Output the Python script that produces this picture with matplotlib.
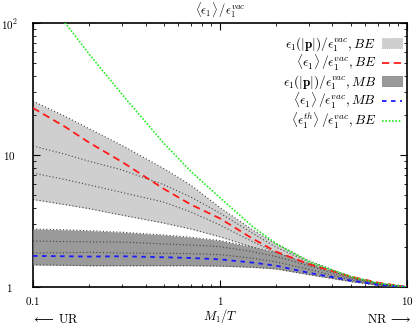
import numpy as np
import matplotlib
matplotlib.use('Agg')
import matplotlib.pyplot as plt
from matplotlib.patches import Patch
from matplotlib.lines import Line2D

plt.rcParams['mathtext.fontset'] = 'cm'
plt.rcParams['font.family'] = ['DejaVu Serif']
plt.rcParams['font.size'] = 8

# M1/T grid
x = [0.1, 0.15, 0.2, 0.3, 0.5, 0.7, 1, 1.5, 2, 3, 5, 7, 10]

# BE band (eps1(|p|)/eps1_vac): upper edge, two inner curves, lower edge
be_top = [25.6, 19.5, 15.8, 11.8, 7.9, 5.9, 4.0, 2.7, 2.12, 1.58, 1.2, 1.07, 1.0]
be_in1 = [11.7, 10.1, 8.96, 7.7, 5.96, 4.8, 3.63, 2.55, 2.0, 1.54, 1.19, 1.07, 1.0]
be_in2 = [7.3, 6.5, 5.93, 5.2, 4.4, 3.7, 2.95, 2.2, 1.82, 1.47, 1.16, 1.06, 1.0]
be_bot = [4.6, 4.2, 3.92, 3.5, 3.05, 2.75, 2.4, 2.0, 1.74, 1.42, 1.14, 1.05, 1.0]

# MB band
mb_top = [2.75, 2.71, 2.67, 2.6, 2.48, 2.38, 2.25, 2.0, 1.82, 1.5, 1.18, 1.06, 1.0]
mb_in1 = [2.23, 2.21, 2.2, 2.19, 2.12, 2.08, 2.02, 1.85, 1.7, 1.45, 1.16, 1.06, 1.0]
mb_in2 = [1.81, 1.82, 1.83, 1.81, 1.8, 1.79, 1.76, 1.65, 1.55, 1.36, 1.13, 1.05, 1.0]
mb_bot = [1.47, 1.46, 1.45, 1.45, 1.45, 1.45, 1.44, 1.41, 1.37, 1.24, 1.1, 1.03, 1.0]

# averages
avg_be = [22.7, 16.2, 12.4, 8.85, 5.55, 4.21, 3.31, 2.32, 1.85, 1.49, 1.2, 1.08, 1.0]
avg_mb = [1.72, 1.71, 1.70, 1.71, 1.68, 1.66, 1.62, 1.53, 1.45, 1.28, 1.12, 1.04, 1.0]
avg_th = [204, 98.3, 58, 28.7, 12.3, 7.5, 4.75, 2.86, 2.13, 1.55, 1.2, 1.07, 1.0]

light = '#cfcfcf'
dark = '#9a9a9a'
dot_kw = dict(color='#444444', lw=0.8, ls=(0, (1, 2)))

fig = plt.figure(figsize=(4.16, 3.27), dpi=100)
ax = fig.add_axes([0.0793, 0.1223, 0.8987, 0.8074])

ax.fill_between(x, be_bot, be_top, color=light, lw=0, zorder=1)
for s in (be_top, be_in1, be_in2, be_bot):
    ax.plot(x, s, zorder=2, **dot_kw)
ax.fill_between(x, mb_bot, mb_top, color=dark, lw=0, zorder=3)
for s in (mb_top, mb_in1, mb_in2, mb_bot):
    ax.plot(x, s, zorder=4, **dot_kw)

ax.plot(x, avg_be, color='#ff1a1a', lw=1.3, ls=(0, (4, 2.5)), zorder=5)
ax.plot(x, avg_mb, color='#1a1aff', lw=1.3, ls=(0, (2.5, 2.5)), zorder=5)
ax.plot(x, avg_th, color='#22ee22', lw=1.2, ls=(0, (1, 1)), zorder=6)

ax.set_xscale('log')
ax.set_yscale('log')
ax.set_xlim(0.1, 10)
ax.set_ylim(1, 100)
ax.set_xticks([0.1, 1, 10])
ax.set_xticklabels(['$0.1$', '$1$', '$10$'])
ax.set_yticks([1, 10, 100])
ax.set_yticklabels(['$1$', '$10$', '$10^2$'], ha='center')
ax.tick_params(which='both', direction='in', top=True, right=True)
ax.tick_params(which='major', length=5, width=0.8)
ax.tick_params(which='minor', length=2.5, width=0.6)
ax.tick_params(axis='y', which='major', pad=17)
ax.tick_params(axis='x', which='major', pad=6)
for sp in ax.spines.values():
    sp.set_linewidth(1.2)

ax.set_xlabel('$M_1/T$', fontsize=9, labelpad=0)
fig.text(0.53, 0.968, r'$\langle\epsilon_1\rangle\,/\epsilon_1^{vac}$', ha='center', va='center', fontsize=9)
fig.text(0.075, 0.022, r'$\longleftarrow\;\mathrm{UR}$', ha='left', va='center', fontsize=9)
fig.text(0.99, 0.022, r'$\mathrm{NR}\;\longrightarrow$', ha='right', va='center', fontsize=9)

handles = [
    Patch(facecolor=light, edgecolor='#aaaaaa', linestyle=':', lw=0.6),
    Line2D([], [], color='#ff1a1a', lw=1.3, ls=(0, (4, 2.5))),
    Patch(facecolor=dark, edgecolor='#888888', lw=0.6),
    Line2D([], [], color='#1a1aff', lw=1.3, ls=(0, (2.5, 2.5))),
    Line2D([], [], color='#22ee22', lw=1.2, ls=(0, (1, 1))),
]
labels = [
    r'$\epsilon_1(|\mathbf{p}|)/\epsilon_1^{vac},BE$',
    r'$\langle\epsilon_1\rangle\,/\epsilon_1^{vac},BE$',
    r'$\epsilon_1(|\mathbf{p}|)/\epsilon_1^{vac},MB$',
    r'$\langle\epsilon_1\rangle\,/\epsilon_1^{vac},MB$',
    r'$\langle\epsilon_1^{th}\rangle\,/\epsilon_1^{vac},BE$',
]
ax.legend(handles, labels, loc='upper right', bbox_to_anchor=(0.995, 0.965),
          frameon=False, markerfirst=False, fontsize=9.5, handlelength=1.55,
          handleheight=0.8, labelspacing=0.0, handletextpad=0.45,
          borderaxespad=0.0, borderpad=0.2)

fig.savefig('out.png', dpi=100)
